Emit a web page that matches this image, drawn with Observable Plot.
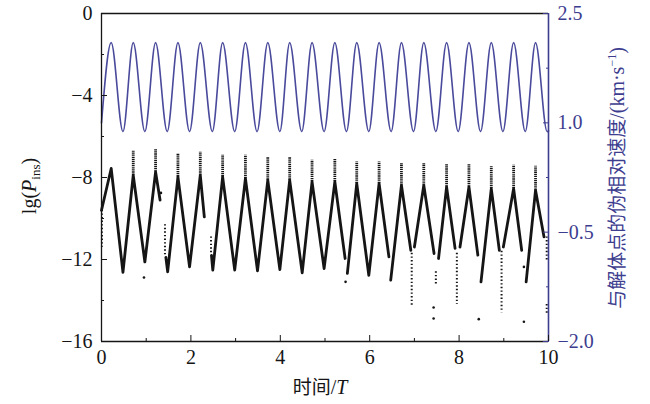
<!DOCTYPE html>
<html><head><meta charset="utf-8">
<script src="https://cdn.jsdelivr.net/npm/d3@7"></script>
<script src="https://cdn.jsdelivr.net/npm/@observablehq/plot@0.6"></script>
<style>body{margin:0;background:#fff}</style>
</head><body><div id="chart"></div>
<script>
// ---- axis ticks ----
const xTicks = [0, 2, 4, 6, 8, 10];
const xMinor = [1, 3, 5, 7, 9];
const leftTicks = [-16, -12, -8, -4, 0];
const leftMinor = [-14, -10, -6, -2];
const rightTicks = [-2.0, -0.5, 1.0, 2.5];
const rightMinor = [-1.25, 0.25, 1.75];

// ---- blue series: pseudo relative velocity (right axis), extrema ----
const blueT = [0, 0.217, 0.48, 0.71, 0.97, 1.21, 1.47, 1.71, 1.97, 2.21, 2.48, 2.71, 2.98, 3.22, 3.48, 3.72, 3.99, 4.21, 4.48, 4.71, 4.98, 5.22, 5.48, 5.71, 5.98, 6.21, 6.48, 6.71, 6.98, 7.21, 7.48, 7.72, 7.98, 8.22, 8.48, 8.72, 8.98, 9.22, 9.48, 9.71, 9.97, 10];
const blueV = [1.0, 2.1, 0.88, 2.1, 0.88, 2.1, 0.88, 2.1, 0.88, 2.1, 0.88, 2.1, 0.88, 2.1, 0.88, 2.1, 0.88, 2.1, 0.88, 2.1, 0.88, 2.1, 0.88, 2.1, 0.88, 2.1, 0.88, 2.1, 0.88, 2.1, 0.88, 2.1, 0.88, 2.1, 0.88, 2.1, 0.88, 2.1, 0.88, 2.1, 0.88, 0.89];

// ---- black series: lg(P_ins), solid (dense-dot) segments ----
const lineT = [0, 0.217, 0.48, 0.71, 0.97, 1.21, 1.31,
  1.44, 1.48, 1.71, 1.97, 2.21, 2.30,
  2.46, 2.49, 2.71, 2.98, 3.22, 3.49, 3.72, 3.99, 4.21, 4.49, 4.71, 4.98, 5.22, 5.45,
  5.50, 5.71, 5.98, 6.21, 6.43,
  6.47, 6.71, 6.92,
  7.00, 7.21, 7.44,
  7.54, 7.72, 7.91,
  8.02, 8.22, 8.42,
  8.49, 8.72, 8.90,
  8.99, 9.22, 9.40,
  9.50, 9.71, 9.90];
const lineV = [-9.6, -7.56, -12.63, -7.89, -12.12, -7.73, -9.1,
  -11.9, -12.6, -7.97, -12.36, -7.89, -9.92,
  -11.8, -12.52, -7.97, -12.52, -8.05, -12.55, -8.13, -12.49, -8.13, -12.65, -8.21, -12.44, -8.21, -11.95,
  -12.68, -8.29, -12.77, -8.29, -11.87,
  -13.01, -8.38, -11.55,
  -11.39, -8.38, -11.71,
  -11.95, -8.46, -11.46,
  -11.39, -8.46, -11.79,
  -13.09, -8.54, -11.55,
  -11.39, -8.54, -11.55,
  -13.09, -8.62, -10.9];
const lineSeg = [0, 0, 0, 0, 0, 0, 0,
  1, 1, 1, 1, 1, 1,
  2, 2, 2, 2, 2, 2, 2, 2, 2, 2, 2, 2, 2, 2,
  3, 3, 3, 3, 3,
  4, 4, 4,
  5, 5, 5,
  6, 6, 6,
  7, 7, 7,
  8, 8, 8,
  9, 9, 9,
  10, 10, 10];

// dotted spikes above each peak
const peakT = [0.217, 0.71, 1.21, 1.71, 2.21, 2.71, 3.22, 3.72, 4.21, 4.71, 5.22, 5.71, 6.21, 6.71, 7.21, 7.72, 8.22, 8.72, 9.22, 9.71];
const peakSolid = [-7.56, -7.89, -7.73, -7.97, -7.89, -7.97, -8.05, -8.13, -8.13, -8.21, -8.21, -8.29, -8.29, -8.38, -8.38, -8.46, -8.46, -8.54, -8.54, -8.62];
const peakTop = [-7.56, -6.72, -6.63, -6.83, -6.75, -6.91, -6.91, -7.02, -7.02, -7.16, -7.12, -7.24, -7.24, -7.32, -7.32, -7.35, -7.35, -7.48, -7.40, -7.45];

// loose dotted columns
const colT = [0.01, 1.42, 2.45, 6.94, 7.48, 7.95, 8.95, 9.96, 9.96];
const colTop = [-9.6, -10.3, -10.9, -11.7, -12.6, -11.7, -11.6, -10.9, -14.2];
const colBot = [-11.4, -11.8, -11.7, -14.3, -13.2, -14.2, -14.6, -12.1, -14.7];

// isolated dots
const dotT = [0.95, 1.33, 5.46, 7.43, 7.43, 8.44, 9.45, 9.45];
const dotV = [-12.88, -8.75, -13.09, -14.34, -14.88, -14.91, -12.36, -15.04];

// ---- build tables ----
const toLeft = d3.scaleLinear([-2, 2.5], [-16, 0]);
const blue = blueT.map((t, i) => ({t, v: toLeft(blueV[i])}));
const black = lineT.map((t, i) => ({t, v: lineV[i], seg: lineSeg[i]}));
const peaks = peakT.map((t, i) => ({t, solid: peakSolid[i], top: peakTop[i]}));
const cols = colT.map((t, i) => ({t, top: colTop[i], bot: colBot[i]}));
const dots = dotT.map((t, i) => ({t, v: dotV[i]}));

const BLUE = "#3d3d8f";
const INK = "#151515";
const fmt1 = d3.format(".1f");

const plot = Plot.plot({
  width: 650, height: 404,
  marginLeft: 101, marginRight: 102, marginTop: 13, marginBottom: 63,
  x: {domain: [0, 10], label: null},
  y: {domain: [-16, 0], label: null},
  style: {fontFamily: "'Liberation Serif', 'Times New Roman', serif", fontSize: "20px", background: "#fff", overflow: "visible"},
  marks: [
    Plot.line(blue, {x: "t", y: "v", curve: "monotone-x", stroke: "#4a4a9c", strokeWidth: 1.6}),
    Plot.line(black, {x: "t", y: "v", z: "seg", stroke: INK, strokeWidth: 2.8, strokeLinejoin: "round"}),
    Plot.ruleX(peaks, {x: "t", y1: "solid", y2: "top", stroke: INK, strokeWidth: 2.8, strokeDasharray: "1.3,0.8"}),
    Plot.ruleX(cols, {x: "t", y1: "top", y2: "bot", stroke: INK, strokeWidth: 2, strokeDasharray: "1.4,2.2"}),
    Plot.dot(dots, {x: "t", y: "v", r: 1.3, fill: INK}),
    Plot.ruleY([0], {stroke: INK, strokeWidth: 1.3}),
    Plot.ruleY([-16], {stroke: INK, strokeWidth: 1.3}),
    Plot.ruleX([0], {stroke: INK, strokeWidth: 1.3}),
    Plot.ruleX([10], {stroke: BLUE, strokeWidth: 1.6}),
    Plot.axisX({ticks: xTicks, tickSize: -6, tickPadding: 14, tickFormat: d => String(d), label: null, fontSize: 20, color: INK}),
    Plot.axisX({ticks: xMinor, tickSize: -3, tickFormat: () => "", label: null, color: INK}),
    Plot.axisY({ticks: leftTicks, tickSize: -6, tickPadding: 15, label: null, fontSize: 20, color: INK}),
    Plot.axisY({ticks: leftMinor, tickSize: -3, tickFormat: () => "", label: null, color: INK}),
    Plot.axisY({anchor: "right", ticks: rightTicks.map(toLeft), tickFormat: d => fmt1(toLeft.invert(d)), tickSize: -6, tickPadding: 15, label: null, fontSize: 20, color: BLUE}),
    Plot.axisY({anchor: "right", ticks: rightMinor.map(toLeft), tickFormat: () => "", tickSize: -3, label: null, color: BLUE})
  ]
});
document.getElementById("chart").appendChild(plot);

// ---- axis titles ----
const svg = d3.select(plot);
const serif = "'Liberation Serif', 'Times New Roman', serif";
const cjk = "'Noto Sans CJK SC', sans-serif";

const ly = svg.append("text").attr("transform", "translate(36,186) rotate(-90)")
  .attr("text-anchor", "middle").attr("font-family", serif).attr("font-size", 20).attr("fill", INK);
ly.append("tspan").text("lg(");
ly.append("tspan").attr("font-style", "italic").text("P");
ly.append("tspan").attr("font-size", 13).attr("dy", 4).text("ins");
ly.append("tspan").attr("dy", -4).text(")");

const ry = svg.append("text").attr("transform", "translate(624,178) rotate(-90)")
  .attr("text-anchor", "middle").attr("font-family", serif).attr("font-size", 20).attr("fill", BLUE);
ry.append("tspan").attr("font-family", cjk).attr("font-size", 19).text("与解体点的伪相对速度");
ry.append("tspan").text("/(km·s");
ry.append("tspan").attr("font-size", 12).attr("dy", -8).text("−1");
ry.append("tspan").attr("dy", 8).text(")");

const lx = svg.append("text").attr("transform", "translate(320,394)")
  .attr("text-anchor", "middle").attr("font-family", serif).attr("font-size", 20).attr("fill", INK);
lx.append("tspan").attr("font-family", cjk).attr("font-size", 19).text("时间");
lx.append("tspan").text("/");
lx.append("tspan").attr("font-style", "italic").text("T");
</script>
</body></html>
